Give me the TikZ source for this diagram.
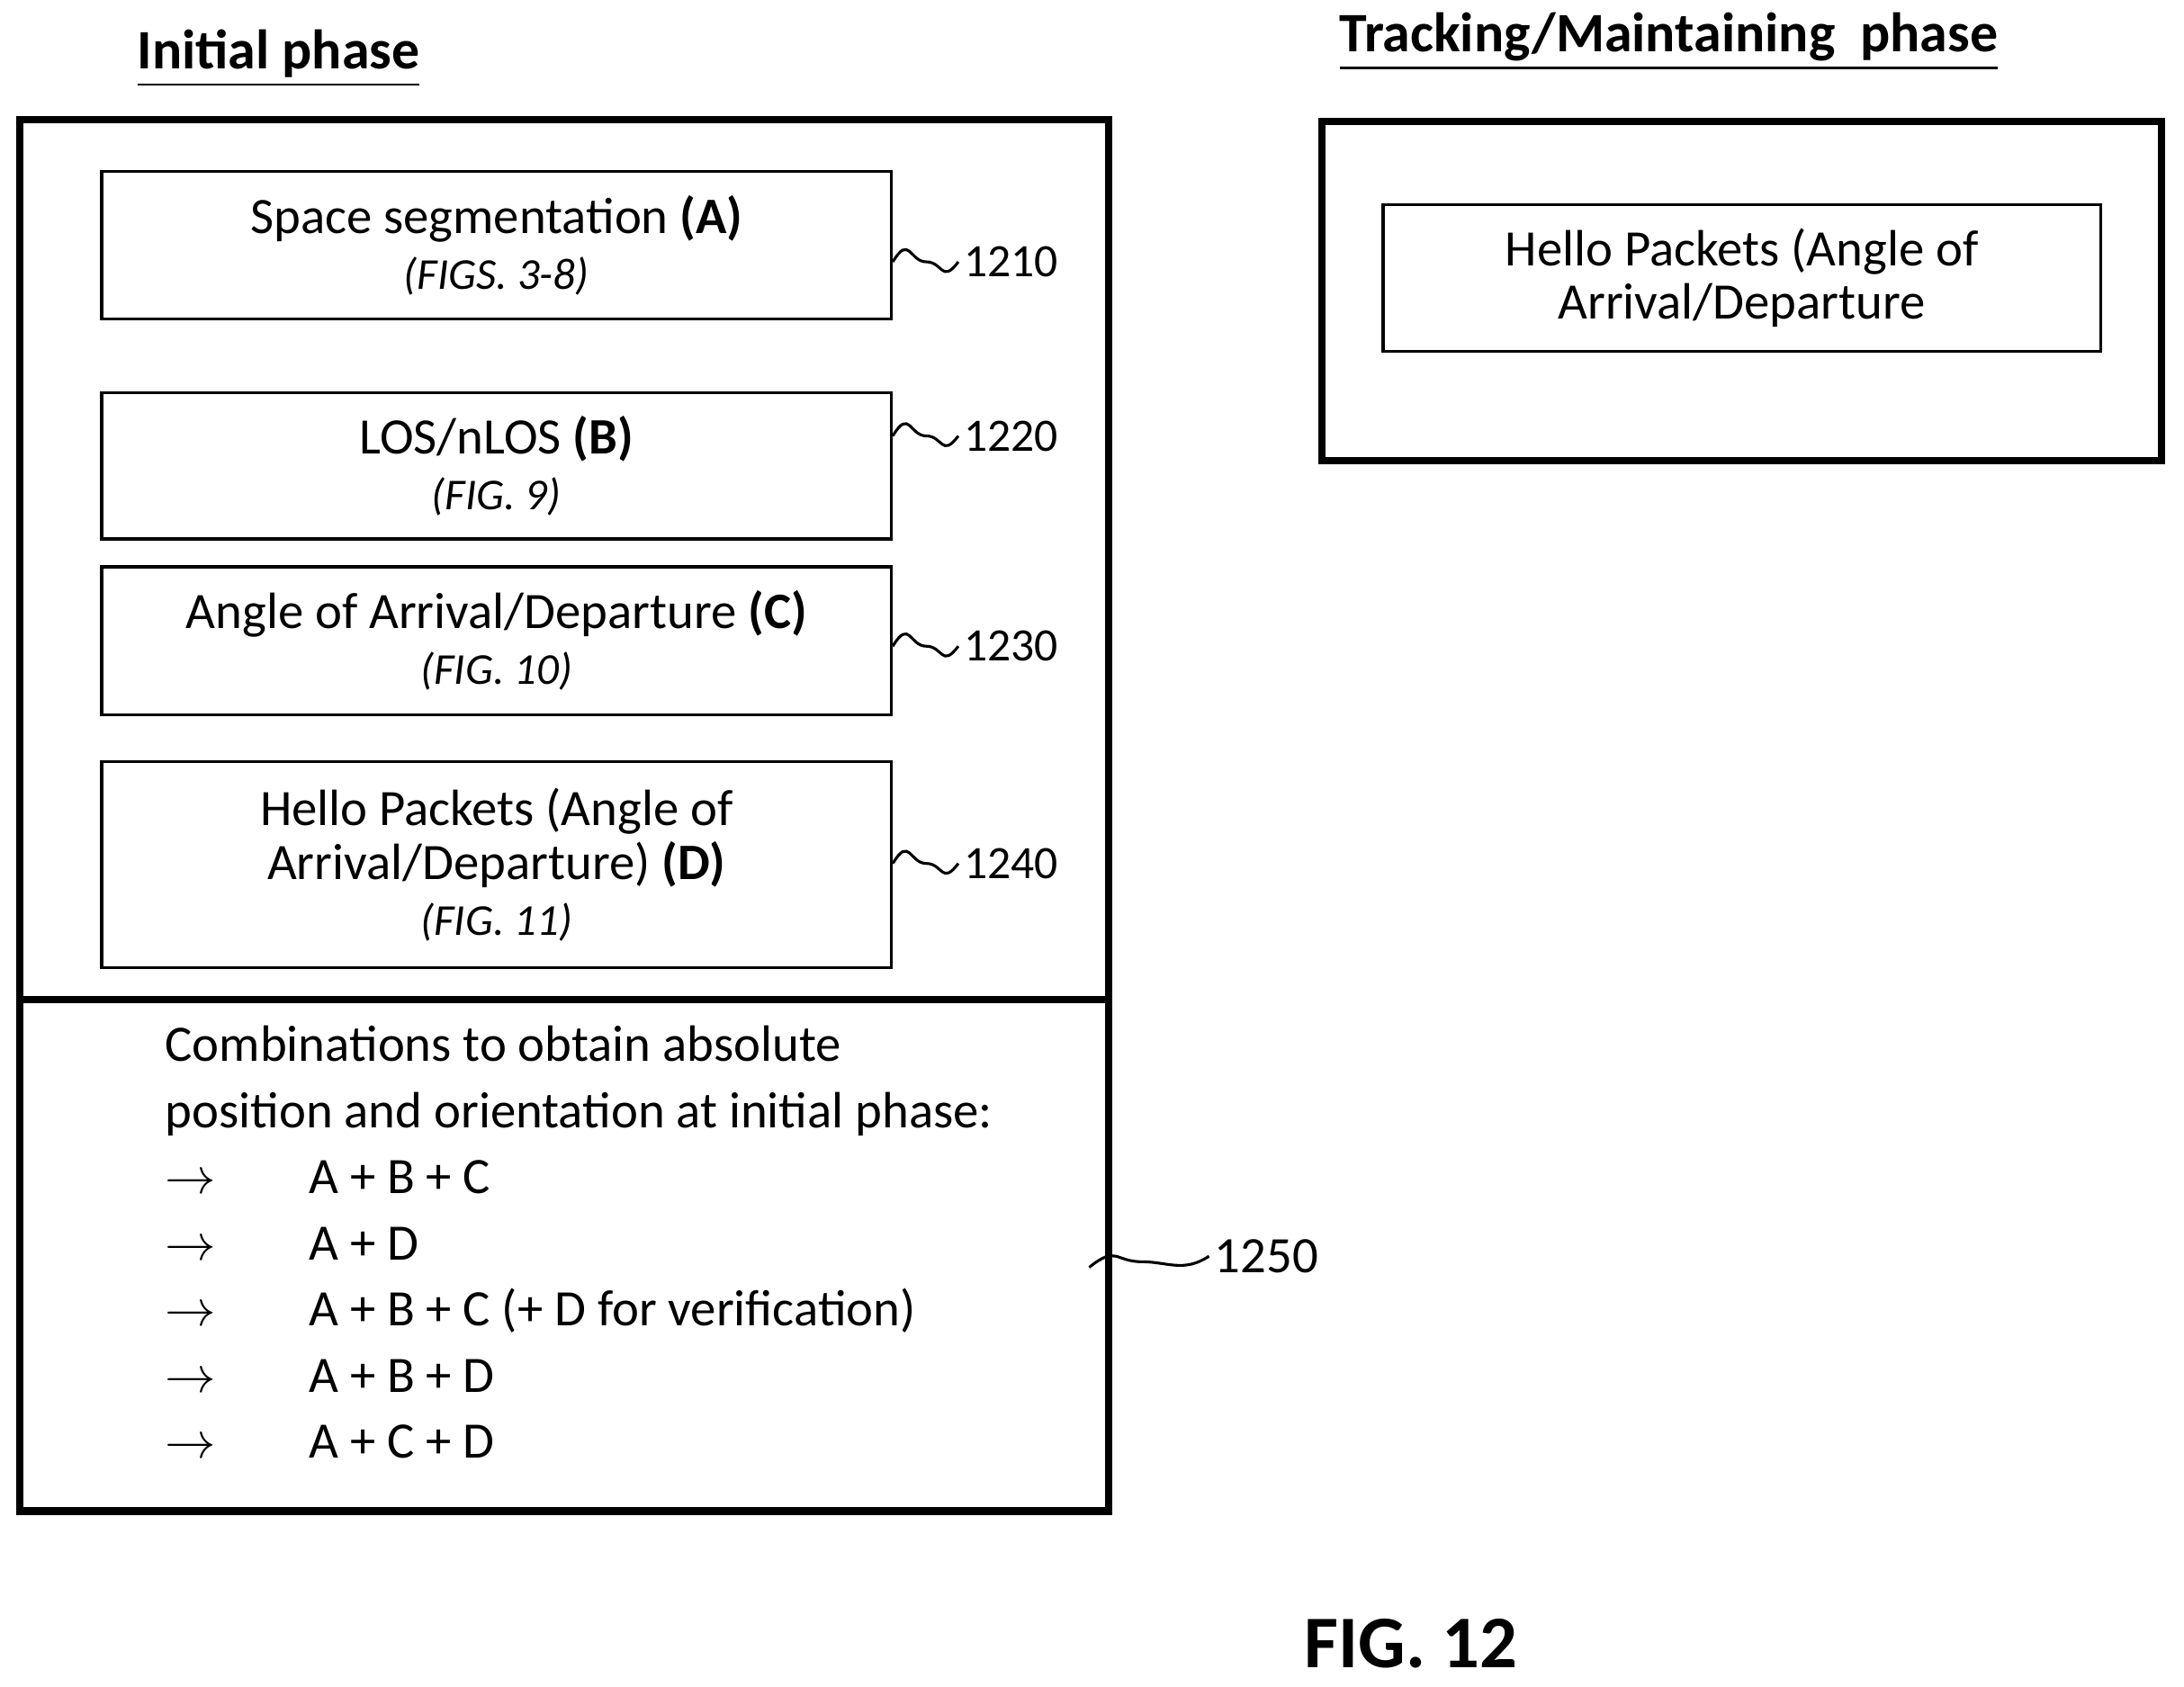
\documentclass[tikz,border=0pt]{standalone}
\usepackage{fontspec}
\setmainfont{Carlito}
\usetikzlibrary{positioning}
\tikzset{
  frame/.style={draw, line width=1.6pt},
  step box/.style={draw, line width=0.6pt, align=center, font=\fontsize{11}{13}\selectfont, inner sep=0pt},
  ref label/.style={anchor=west, font=\fontsize{10}{12}\selectfont, inner sep=1pt},
  title/.style={font=\bfseries\fontsize{12}{14}\selectfont},
  wave/.style={line width=0.6pt}
}
\newcommand{\sub}[1]{\\[-1pt]{\itshape\fontsize{9.5}{12}\selectfont #1}}
\begin{document}
\begin{tikzpicture}[x=0.3pt,y=-0.3pt]
\useasboundingbox (0,0) rectangle (1568,1211);
% Titles
\node[title] (t1) at (200,42) {\underline{Initial phase}};
\node[title] (t2) at (1198,30) {\underline{Tracking/Maintaining\ \ phase}};
% Frames
\draw[frame] (14,86) rectangle (796,1085);
\draw[frame] (14,718) -- (796,718);
\draw[frame] (949,87) rectangle (1552,331);
% Initial phase steps
\node[step box, minimum width=170.1pt, minimum height=31.8pt] (a) at (356.5,176) {Space segmentation \textbf{(A)}\sub{(FIGS. 3-8)}};
\node[step box, minimum width=170.1pt, minimum height=31.5pt] (b) at (356.5,334.5) {LOS/nLOS \textbf{(B)}\sub{(FIG. 9)}};
\node[step box, minimum width=170.1pt, minimum height=31.8pt] (c) at (356.5,460) {Angle of Arrival/Departure \textbf{(C)}\sub{(FIG. 10)}};
\node[step box, minimum width=170.1pt, minimum height=44.4pt] (d) at (356.5,621) {Hello Packets (Angle of\\[-1.5pt] Arrival/Departure) \textbf{(D)}\sub{(FIG. 11)}};
% Tracking phase step
\node[step box, minimum width=154.5pt, minimum height=31.5pt] (h) at (1250.5,199.5) {Hello Packets (Angle of\\[-1.5pt] Arrival/Departure};
% Combinations
\node[anchor=north west, align=left, inner sep=0pt, font=\fontsize{11}{14.25}\selectfont] (comb) at (118,736) {%
Combinations to obtain absolute\\
position and orientation at initial phase:\\
\textbf{$\rightarrow$}\hspace{20pt}A + B + C\\
\textbf{$\rightarrow$}\hspace{20pt}A + D\\
\textbf{$\rightarrow$}\hspace{20pt}A + B + C (+ D for verification)\\
\textbf{$\rightarrow$}\hspace{20pt}A + B + D\\
\textbf{$\rightarrow$}\hspace{20pt}A + C + D};
% Reference labels
\node[ref label] (l1) at (688,188) {1210};
\node[ref label] (l2) at (688,313) {1220};
\node[ref label] (l3) at (688,464) {1230};
\node[ref label] (l4) at (688,620) {1240};
\node[ref label, font=\fontsize{11}{13}\selectfont] (l5) at (868,902) {1250};
\coordinate (w5) at (782,910);
\foreach \n/\m in {a/l1,b/l2,c/l3,d/l4}
  \draw[wave] (\n.east |- \m.west) .. controls +(12,-20) and +(-12,0) .. +(24,0) .. controls +(12,0) and +(-12,16) .. (\m.west);
\draw[wave] (w5) .. controls +(20,-16) and +(-20,0) .. +(38,-4) .. controls +(18,0) and +(-18,12) .. (l5.west);
% Figure label
\node[font=\bfseries\fontsize{16}{18}\selectfont] (fig) at (1013,1180) {FIG. 12};
\end{tikzpicture}
\end{document}
